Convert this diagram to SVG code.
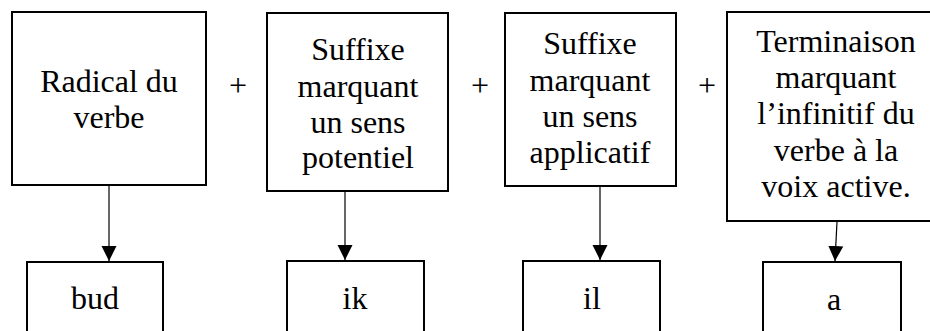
<svg xmlns="http://www.w3.org/2000/svg" width="930" height="331" viewBox="0 0 930 331">
<style>
.box{fill:#fff;stroke:#000;stroke-width:2}
.t{font-family:"Liberation Serif","Times New Roman",serif;font-size:32px;fill:#000;text-anchor:middle}
.c{stroke:#000;stroke-width:1.2;fill:none}
</style>
<defs>
<marker id="ah" markerUnits="userSpaceOnUse" markerWidth="16" markerHeight="16" refX="15" refY="8" orient="auto" viewBox="0 0 16 16">
<path d="M0,0.5 L15,8 L0,15.5 z" fill="#000"/>
</marker>
</defs>
<rect width="930" height="331" fill="#fff"/>
<g id="n1">
<rect class="box" x="12" y="12" width="194" height="173"/>
<text class="t" x="109" y="92">Radical du</text>
<text class="t" x="109" y="128">verbe</text>
</g>
<g id="n2">
<rect class="box" x="267" y="13" width="181" height="178"/>
<text class="t" x="358" y="60">Suffixe</text>
<text class="t" x="358" y="97">marquant</text>
<text class="t" x="358" y="133">un sens</text>
<text class="t" x="358" y="168">potentiel</text>
</g>
<g id="n3">
<rect class="box" x="505" y="13" width="171" height="173"/>
<text class="t" x="590" y="54">Suffixe</text>
<text class="t" x="590" y="91">marquant</text>
<text class="t" x="590" y="127">un sens</text>
<text class="t" x="590" y="163">applicatif</text>
</g>
<g id="n4">
<rect class="box" x="727" y="12" width="210" height="209"/>
<text class="t" x="836" y="52">Terminaison</text>
<text class="t" x="836" y="88">marquant</text>
<text class="t" x="836" y="124">l’infinitif du</text>
<text class="t" x="836" y="161">verbe à la</text>
<text class="t" x="836" y="197">voix active.</text>
</g>
<g id="b1">
<rect class="box" x="27" y="262" width="136" height="80"/>
<text class="t" x="95" y="309">bud</text>
</g>
<g id="b2">
<rect class="box" x="287" y="261" width="137" height="80"/>
<text class="t" x="355" y="309">ik</text>
</g>
<g id="b3">
<rect class="box" x="523" y="261" width="137" height="80"/>
<text class="t" x="592" y="309">il</text>
</g>
<g id="b4">
<rect class="box" x="763" y="262" width="138" height="80"/>
<text class="t" x="834" y="310">a</text>
</g>
<g id="plus">
<text class="t" x="238" y="96">+</text>
<text class="t" x="480" y="96">+</text>
<text class="t" x="707" y="96">+</text>
</g>
<g id="connectors">
<line class="c" x1="109" y1="186" x2="109" y2="261" marker-end="url(#ah)"/>
<line class="c" x1="345" y1="192" x2="345" y2="260" marker-end="url(#ah)"/>
<line class="c" x1="600" y1="187" x2="600" y2="260" marker-end="url(#ah)"/>
<line class="c" x1="837" y1="222" x2="835" y2="261" marker-end="url(#ah)"/>
</g>
</svg>
